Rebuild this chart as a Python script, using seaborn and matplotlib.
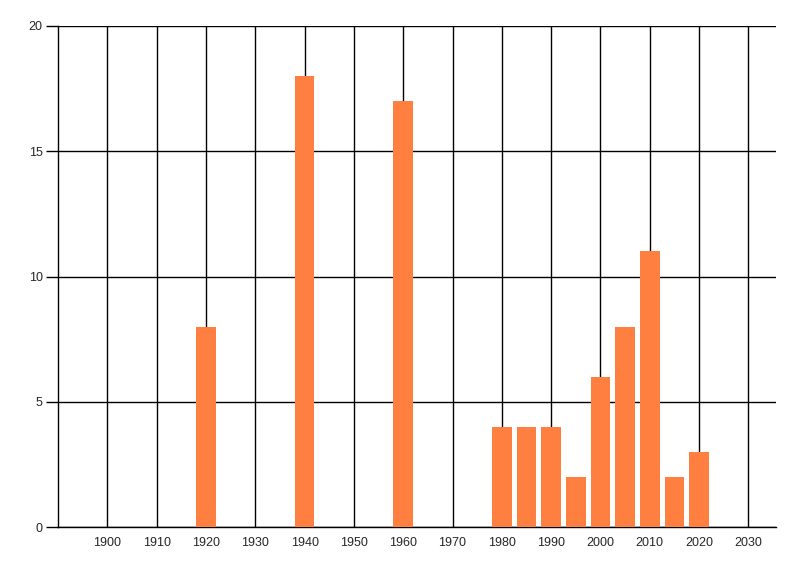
import pandas as pd
import matplotlib
matplotlib.use("Agg")
import matplotlib.pyplot as plt
import seaborn as sns

years = [1920, 1940, 1960, 1980, 1985, 1990, 1995, 2000, 2005, 2010, 2015, 2020]
counts = [8, 18, 17, 4, 4, 4, 2, 6, 8, 11, 2, 3]
x_ticks = list(range(1900, 2031, 10))
y_ticks = [0, 5, 10, 15, 20]

df = pd.DataFrame({"year": years, "count": counts})

sns.set_style("white")
plt.rcParams['font.family'] = ['Liberation Sans', 'DejaVu Sans']

fig = plt.figure(figsize=(8, 5.76), dpi=100)
ax = fig.add_axes([58 / 800, 1 - 527 / 576, (775.5 - 58) / 800, (527 - 26) / 576])

sns.barplot(data=df, x="year", y="count", native_scale=True, width=0.8,
            color="#FF7F40", saturation=1, linewidth=0, ax=ax, zorder=3)

ax.set_xlim(1890, 2035.5)
ax.set_ylim(0, 20)
ax.set_xticks(x_ticks)
ax.set_yticks(y_ticks)
ax.grid(True, color="black", linewidth=1)
ax.set_axisbelow(True)
ax.set_xlabel("")
ax.set_ylabel("")

for side in ["top", "right"]:
    ax.spines[side].set_visible(False)
ax.spines["left"].set_color("black")
ax.spines["bottom"].set_color("black")
ax.spines["left"].set_linewidth(1)
ax.spines["bottom"].set_linewidth(1)

ax.tick_params(axis="y", length=9, width=1, color="black", labelsize=9, pad=2, left=True)
ax.tick_params(axis="x", length=0, labelsize=9, pad=7)

fig.savefig("out.png", dpi=100)
